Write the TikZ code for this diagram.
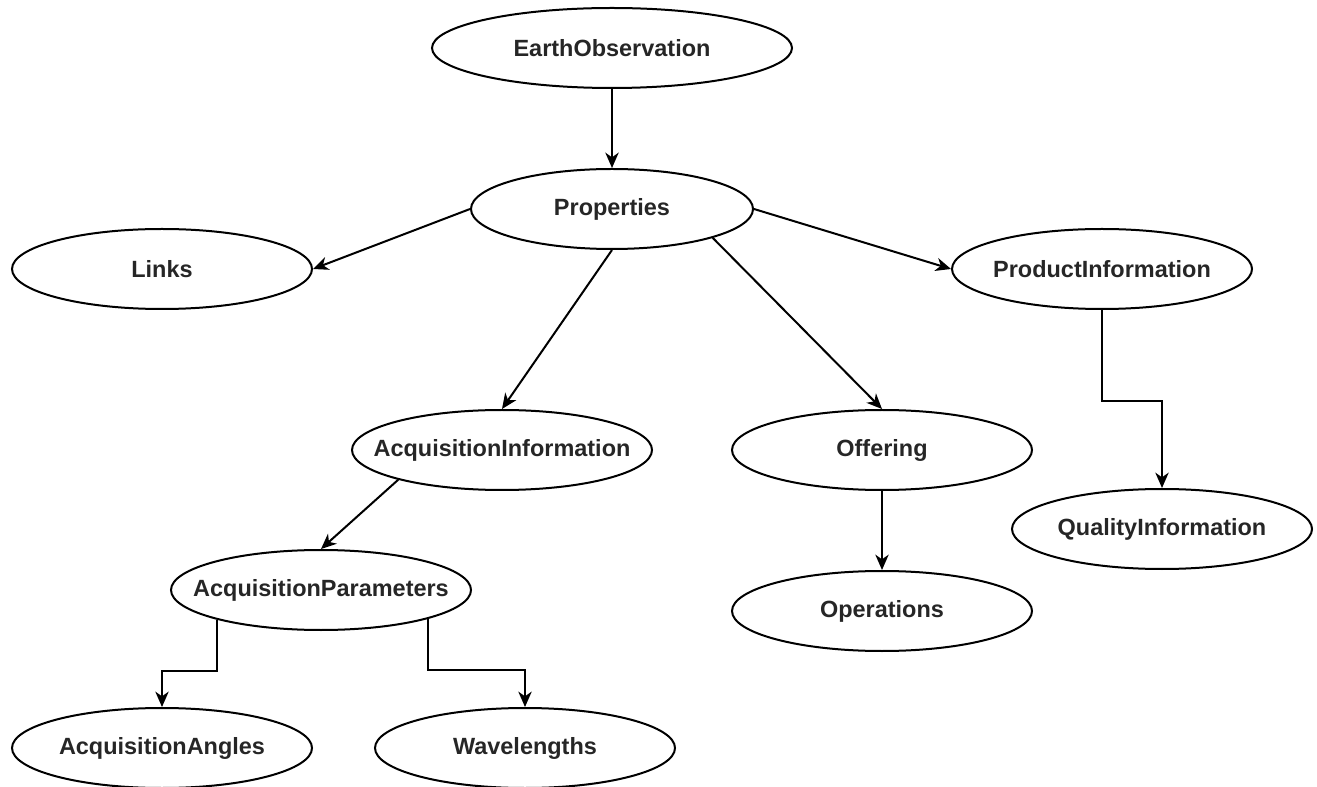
\documentclass[tikz,border=0pt]{standalone}
\usepackage{fontspec}
\setmainfont{Liberation Sans}
\usetikzlibrary{shapes.geometric,arrows.meta}
% label of fixed-size ellipse: centred, takes no width
\newcommand{\entitylabel}[1]{\makebox[0pt][c]{#1}}
\begin{document}
\begin{tikzpicture}[x=0.75pt,y=-0.75pt,
  entity/.style={ellipse,draw,line width=1.5pt,inner sep=0pt,
    minimum width=#1*0.75pt,minimum height=60pt,
    font=\fontsize{17.6pt}{21pt}\selectfont\bfseries,text=black!85},
  entity/.default=300,
  link/.style={line width=1.5pt,-{Stealth[length=11.5pt,width=10pt,inset=3.5pt]}}]
\useasboundingbox (0,0) rectangle (1317,787);

% data model entities
\node[entity=360] (eo)      at (612,48)   {\entitylabel{EarthObservation}};
\node[entity=282] (prop)    at (612,209)  {\entitylabel{Properties}};
\node[entity]     (links)   at (162,269)  {\entitylabel{Links}};
\node[entity]     (prod)    at (1102,269) {\entitylabel{ProductInformation}};
\node[entity]     (acqinfo) at (502,450)  {\entitylabel{AcquisitionInformation}};
\node[entity]     (offer)   at (882,450)  {\entitylabel{Offering}};
\node[entity]     (quality) at (1162,529) {\entitylabel{QualityInformation}};
\node[entity]     (acqpar)  at (321,590)  {\entitylabel{AcquisitionParameters}};
\node[entity]     (ops)     at (882,611)  {\entitylabel{Operations}};
\node[entity]     (angles)  at (162,748)  {\entitylabel{AcquisitionAngles}};
\node[entity]     (wave)    at (525,748)  {\entitylabel{Wavelengths}};

% containment relations
\draw[link] (eo.south) -- (prop.north);
\draw[link] (prop.west) -- (links.east);
\draw[link] (prop.east) -- (prod.west);
\draw[link] (prop.south) -- (acqinfo.north);
\draw[link] (prop.-16.5) -- (offer.north);
\draw[link] (acqinfo.-164.5) -- (acqpar.north);
\draw[link] (offer.south) -- (ops.north);
\draw[link] (prod.south) -- ++(0,91) -| (quality.north);
\draw[link] (acqpar.-164.7) -- ++(0,51) -| (angles.north);
\draw[link] (acqpar.-15.3) -- ++(0,51) -| (wave.north);
\end{tikzpicture}
\end{document}
